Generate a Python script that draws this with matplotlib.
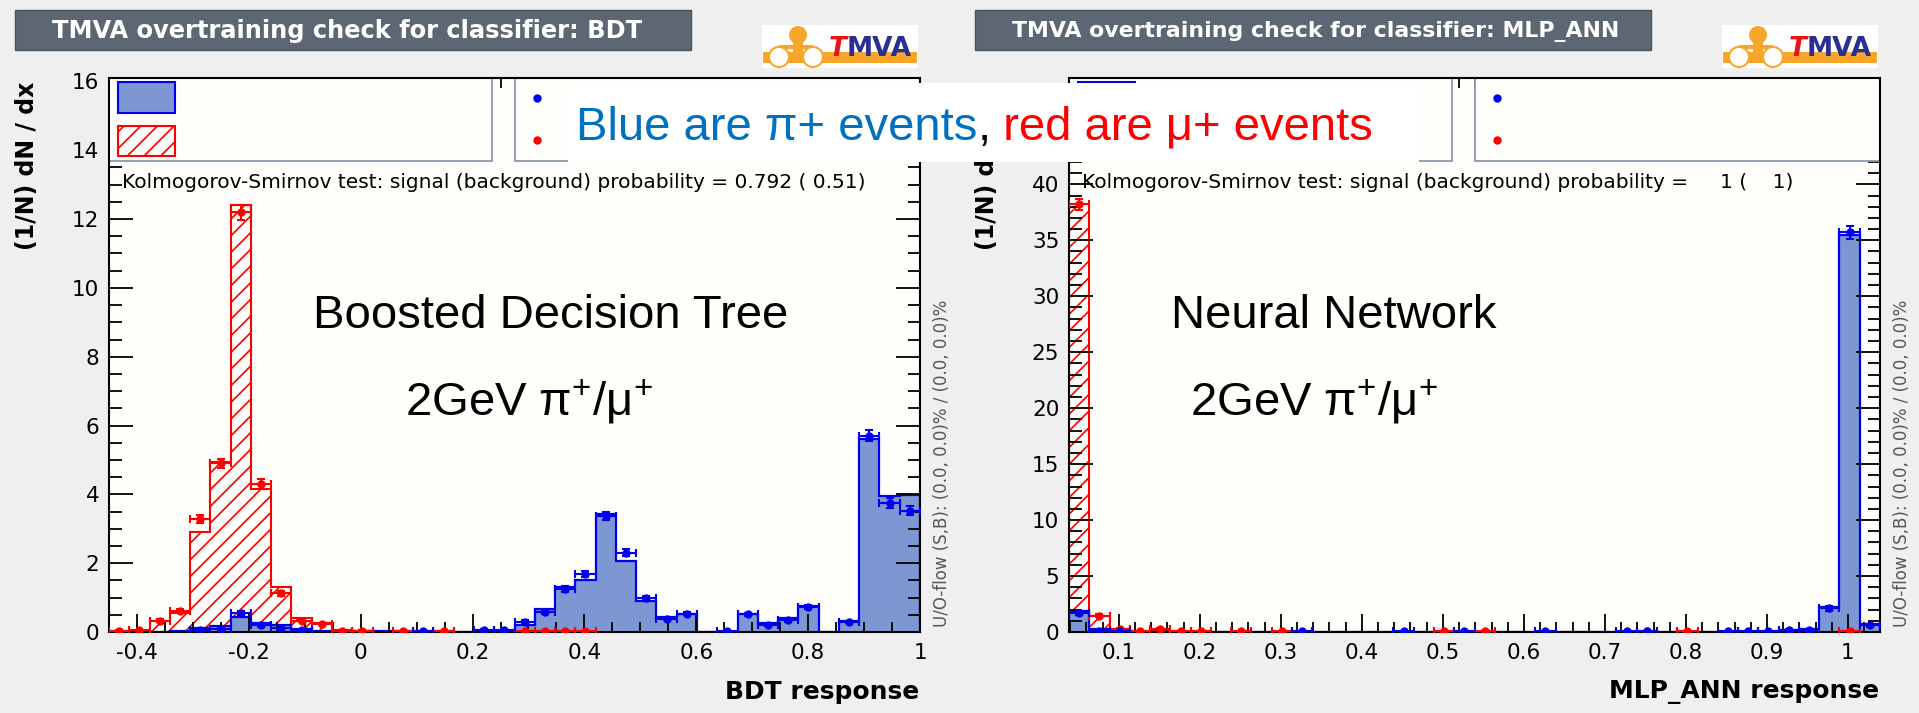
import numpy as np
import matplotlib.pyplot as plt
from matplotlib.patches import Rectangle, Circle
from matplotlib.ticker import MultipleLocator, FuncFormatter

plt.rcParams['font.family'] = ['DejaVu Sans']
plt.rcParams['mathtext.fontset'] = 'custom'
plt.rcParams['mathtext.rm'] = 'Liberation Sans'
plt.rcParams['hatch.linewidth'] = 1.2
SLIDE_FONT = ['Liberation Sans', 'DejaVu Sans']

nan = np.nan

# ---- BDT response: 40 bins on [-0.45, 1.0] ----
bdt_range = (-0.45, 1.0)
bdt_sig_test = [0, 0, 0, 0.03, 0.12, 0.17, 0.43, 0.26, 0.20, 0.10,
                0.03, 0.02, 0.02, 0.02, 0.02, 0.02, 0.02, 0, 0.03, 0.03,
                0.20, 0.67, 1.30, 1.51, 3.42, 2.07, 0.89, 0.43, 0.53, 0,
                0, 0.51, 0.26, 0.40, 0.77, 0, 0.32, 5.60, 3.95, 3.98]
bdt_bkg_test = [0.02, 0.03, 0.33, 0.55, 2.90, 4.95, 12.40, 4.17, 1.30, 0.40,
                0.25, 0.05, 0.03, 0.02, 0.02, 0.01, 0.01, 0, 0, 0,
                0, 0.01, 0.01, 0.01, 0, 0, 0, 0, 0, 0,
                0, 0, 0, 0, 0, 0, 0, 0, 0, 0]
bdt_sig_train = [nan, nan, nan, nan, 0.05, 0.10, 0.55, 0.20, 0.12, 0.07,
                 nan, nan, nan, nan, nan, 0.02, nan, nan, 0.05, 0.05,
                 0.29, 0.58, 1.25, 1.69, 3.38, 2.31, 0.99, 0.39, 0.53, nan,
                 0.03, 0.51, 0.19, 0.34, 0.72, nan, 0.29, 5.71, 3.74, 3.52]
bdt_sig_err = [0, 0, 0, 0, 0.03, 0.04, 0.07, 0.05, 0.04, 0.03,
               0, 0, 0, 0, 0, 0.02, 0, 0, 0.03, 0.03,
               0.05, 0.06, 0.08, 0.09, 0.12, 0.1, 0.06, 0.04, 0.05, 0,
               0.02, 0.05, 0.03, 0.04, 0.06, 0, 0.04, 0.17, 0.14, 0.13]
bdt_bkg_train = [0.03, 0.05, 0.33, 0.62, 3.28, 4.90, 12.20, 4.30, 1.12, 0.32,
                 0.22, 0.04, 0.03, nan, 0.02, nan, 0.02, nan, nan, nan,
                 0.02, 0.02, 0.02, 0.02, nan, nan, nan, nan, nan, nan,
                 nan, nan, nan, nan, nan, nan, nan, nan, nan, nan]
bdt_bkg_err = [0.02, 0.02, 0.04, 0.05, 0.12, 0.14, 0.22, 0.14, 0.07, 0.04,
               0.03, 0.02, 0.02, 0, 0.02, 0, 0.02, 0, 0, 0,
               0.02, 0.02, 0.02, 0.02, 0, 0, 0, 0, 0, 0,
               0, 0, 0, 0, 0, 0, 0, 0, 0, 0]

# ---- MLP_ANN response: 40 bins on [0.0385, 1.0395] ----
mlp_range = (0.0385, 1.0395)
mlp_sig_test = [1.9, 0.3, 0, 0, 0, 0, 0, 0, 0, 0,
                0, 0, 0, 0, 0, 0, 0, 0, 0, 0,
                0, 0, 0, 0, 0, 0, 0, 0, 0, 0,
                0, 0, 0, 0, 0, 0.15, 0.25, 2.2, 35.5, 0.75]
mlp_bkg_test = [38.2, 1.4, 0.3, 0.1, 0.1, 0.05, 0.05, 0, 0, 0,
                0, 0, 0, 0, 0, 0, 0, 0, 0, 0,
                0, 0, 0, 0, 0, 0, 0, 0, 0, 0,
                0, 0, 0, 0, 0, 0, 0, 0, 0, 0]
mlp_sig_train = [1.7, 0.12, 0.05, nan, nan, nan, nan, nan, nan, nan,
                 nan, 0.05, nan, nan, nan, nan, 0.05, nan, nan, 0.05,
                 nan, nan, nan, 0.05, nan, nan, nan, 0.05, 0.05, nan,
                 nan, nan, 0.05, 0.05, 0.05, 0.15, 0.2, 2.1, 35.7, 0.6]
mlp_sig_err = [0.15, 0.05, 0.05, 0, 0, 0, 0, 0, 0, 0,
               0, 0.05, 0, 0, 0, 0, 0.05, 0, 0, 0.05,
               0, 0, 0, 0.05, 0, 0, 0, 0.05, 0.05, 0,
               0, 0, 0.05, 0.05, 0.05, 0.08, 0.1, 0.2, 0.55, 0.12]
mlp_bkg_train = [38.2, 1.45, 0.3, 0.05, 0.25, 0.05, 0.05, nan, 0.05, nan,
                 0.05, nan, nan, nan, nan, nan, nan, nan, 0.05, nan,
                 0.05, nan, nan, nan, nan, nan, nan, nan, 0.05, nan,
                 0.05, nan, nan, nan, nan, nan, nan, nan, 0.05, nan]
mlp_bkg_err = [0.45, 0.15, 0.08, 0.05, 0.08, 0.05, 0.05, 0, 0.05, 0,
               0.05, 0, 0, 0, 0, 0, 0, 0, 0.05, 0,
               0.05, 0, 0, 0, 0, 0, 0, 0, 0.05, 0,
               0.05, 0, 0, 0, 0, 0, 0, 0, 0.05, 0]

panels = [
    dict(left=109, edges=np.linspace(*bdt_range, 41), ylim=16.1, ymaj=2, ymin=0.5,
         xmaj=0.2, xmin=0.05, sig=bdt_sig_test, bkg=bdt_bkg_test,
         sig_tr=bdt_sig_train, sig_err=bdt_sig_err, bkg_tr=bdt_bkg_train, bkg_err=bdt_bkg_err,
         title="TMVA overtraining check for classifier: BDT", title_size=17.4,
         xlabel="BDT response",
         ks="Kolmogorov-Smirnov test: signal (background) probability = 0.792 ( 0.51)",
         name="Boosted Decision Tree", name_x=551, sub_x=529),
    dict(left=1069, edges=np.linspace(*mlp_range, 41), ylim=49.5, ymaj=5, ymin=1,
         xmaj=0.1, xmin=0.02, sig=mlp_sig_test, bkg=mlp_bkg_test,
         sig_tr=mlp_sig_train, sig_err=mlp_sig_err, bkg_tr=mlp_bkg_train, bkg_err=mlp_bkg_err,
         title="TMVA overtraining check for classifier: MLP_ANN", title_size=15.8,
         xlabel="MLP_ANN response",
         ks="Kolmogorov-Smirnov test: signal (background) probability =     1 (    1)",
         name="Neural Network", name_x=1334, sub_x=1314),
]

W, H = 1919, 713
AX_TOP, AX_BOT, AX_W = 78, 632, 811
BLUE, BLUE_FILL, RED = '#0000ee', '#7d97d2', '#ff0000'
PLOT_BG = '#fefefa'
ORANGE = '#f7a62a'

fig = plt.figure(figsize=(W / 100, H / 100), dpi=100, facecolor='#efefef')

# full-figure overlay in pixel coordinates for headers, logo and notes
over = fig.add_axes([0, 0, 1, 1], zorder=10)
over.set_xlim(0, W)
over.set_ylim(H, 0)
over.axis('off')
over.patch.set_alpha(0)


def fmt(v, pos):
    v = round(v, 6)
    return f"{v:g}" if v != 0 else "0"


for p in panels:
    L = p['left']
    ax = fig.add_axes([L / W, (H - AX_BOT) / H, AX_W / W, (AX_BOT - AX_TOP) / H])
    ax.set_facecolor(PLOT_BG)
    edges = p['edges']
    centers = 0.5 * (edges[:-1] + edges[1:])
    half = 0.5 * (edges[1] - edges[0])

    # test samples as histograms
    ax.stairs(p['bkg'], edges, fill=True, facecolor='none', edgecolor=RED, hatch='//',
              linewidth=1.5, zorder=1.2)
    ax.stairs(p['sig'], edges, fill=True, color=BLUE_FILL, zorder=1.3)
    ax.stairs(p['sig'], edges, color=BLUE, linewidth=1.6, zorder=1.4)

    # training samples as points
    for vals, errs, col in [(p['bkg_tr'], p['bkg_err'], RED), (p['sig_tr'], p['sig_err'], BLUE)]:
        vals = np.array(vals, dtype=float)
        m = ~np.isnan(vals)
        ax.errorbar(centers[m], vals[m], xerr=half, yerr=np.array(errs)[m], fmt='o',
                    color=col, ms=5, elinewidth=1.5, capsize=3, capthick=1.5, zorder=3)

    ax.set_xlim(edges[0], edges[-1])
    ax.set_ylim(0, p['ylim'])
    ax.xaxis.set_major_locator(MultipleLocator(p['xmaj']))
    ax.xaxis.set_minor_locator(MultipleLocator(p['xmin']))
    ax.yaxis.set_major_locator(MultipleLocator(p['ymaj']))
    ax.yaxis.set_minor_locator(MultipleLocator(p['ymin']))
    ax.xaxis.set_major_formatter(FuncFormatter(fmt))
    ax.yaxis.set_major_formatter(FuncFormatter(fmt))
    ax.tick_params(which='both', direction='in', top=True, right=True, width=1.3,
                   labelsize=15.5, color='black')
    ax.tick_params(axis='y', which='major', length=17, pad=7)
    ax.tick_params(axis='y', which='minor', length=9)
    ax.tick_params(axis='x', which='major', length=13, pad=8)
    ax.tick_params(axis='x', which='minor', length=7)
    for s in ax.spines.values():
        s.set_linewidth(1.5)

    # legend boxes (entries left without text)
    fy = lambda y: (AX_BOT - y) / (AX_BOT - AX_TOP)
    fx = lambda x: (x - L) / AX_W
    box_kw = dict(transform=ax.transAxes, facecolor=PLOT_BG, edgecolor='#8a9aaa', lw=1.3, zorder=2)
    ax.add_patch(Rectangle((0, fy(161)), fx(L + 383), 1 - fy(161), **box_kw))
    ax.add_patch(Rectangle((fx(L + 406), fy(161)), 1 - fx(L + 406), 1 - fy(161), **box_kw))
    ax.add_patch(Rectangle((fx(L + 9), fy(113)), fx(L + 66) - fx(L + 9), fy(82) - fy(113),
                           transform=ax.transAxes, facecolor=BLUE_FILL, edgecolor=BLUE, lw=1.5, zorder=2.1))
    ax.add_patch(Rectangle((fx(L + 9), fy(156)), fx(L + 66) - fx(L + 9), fy(126) - fy(156),
                           transform=ax.transAxes, facecolor='none', edgecolor=RED, hatch='//',
                           lw=1.5, zorder=2.1))
    ax.plot(fx(L + 428), fy(98), 'o', color=BLUE, ms=5, transform=ax.transAxes, zorder=2.1)
    ax.plot(fx(L + 428), fy(140), 'o', color=RED, ms=5, transform=ax.transAxes, zorder=2.1)

    ax.text(fx(L + 13), fy(183), p['ks'], transform=ax.transAxes, fontsize=14.5,
            ha='left', va='center', zorder=4)
    ax.text(1 + 22 / AX_W, fy(627), "U/O-flow (S,B): (0.0, 0.0)% / (0.0, 0.0)%",
            transform=ax.transAxes, rotation=90, fontsize=12, color='#555555',
            ha='center', va='bottom')
    ax.text(fx(L + 810), fy(692), p['xlabel'], transform=ax.transAxes, fontsize=18,
            fontweight='bold', ha='right', va='center')
    ax.text(fx(L - 82), fy(82), "(1/N) dN / dx", transform=ax.transAxes, fontsize=17,
            fontweight='bold', rotation=90, ha='center', va='top')

    # header bar and logo
    off = L - 109
    over.add_patch(Rectangle((15 + off, 10), 676, 40, facecolor='#5d6773', edgecolor='#4a525c', lw=1))
    over.text(52 + off, 31, p['title'], color='white', fontsize=p['title_size'],
              fontweight='bold', ha='left', va='center')
    over.add_patch(Rectangle((762 + off, 25), 156, 43, facecolor='white', edgecolor='none'))
    over.add_patch(Rectangle((763 + off, 52), 154, 11, facecolor=ORANGE, edgecolor='none'))
    over.add_patch(Rectangle((793 + off, 38), 10, 16, facecolor=ORANGE, edgecolor='none'))
    over.add_patch(Circle((798 + off, 35), 9, facecolor=ORANGE, edgecolor='none'))
    over.add_patch(Rectangle((779 + off, 45), 34, 4, facecolor=ORANGE, edgecolor='none'))
    for cx in (779, 813):
        over.add_patch(Circle((cx + off, 57), 10, facecolor='white', edgecolor=ORANGE, lw=1.5))
    t = over.text(829 + off, 56, "T", color='#ee1111', fontsize=19, fontweight='bold',
                  style='italic', ha='left', va='baseline')
    over.annotate("MVA", xy=(1, 0), xycoords=t, color='#2b2f8f', fontsize=19,
                  fontweight='bold', ha='left', va='bottom')

    # method label
    over.text(p['name_x'], 316, p['name'], fontsize=34, ha='center', va='center',
              family=SLIDE_FONT)
    over.text(p['sub_x'], 402, r'2GeV $\mathregular{\pi^{+}/\mu^{+}}$', fontsize=34,
              ha='center', va='center', family=SLIDE_FONT)

# colour note across both panels
over.add_patch(Rectangle((568, 83), 851, 79, facecolor='white', edgecolor='none'))
t1 = over.text(576, 140, "Blue are \u03c0+ events", color='#0070c0', fontsize=34,
               ha='left', va='baseline', family=SLIDE_FONT)
t2 = over.annotate(",", xy=(1, 0), xycoords=t1, color='black', fontsize=34, ha='left',
                   va='bottom', family=SLIDE_FONT)
over.annotate(" red are \u03bc+ events", xy=(1, 0), xycoords=t2, color=RED, fontsize=34,
              ha='left', va='bottom', family=SLIDE_FONT)

fig.savefig("out.png", dpi=100, facecolor=fig.get_facecolor())
